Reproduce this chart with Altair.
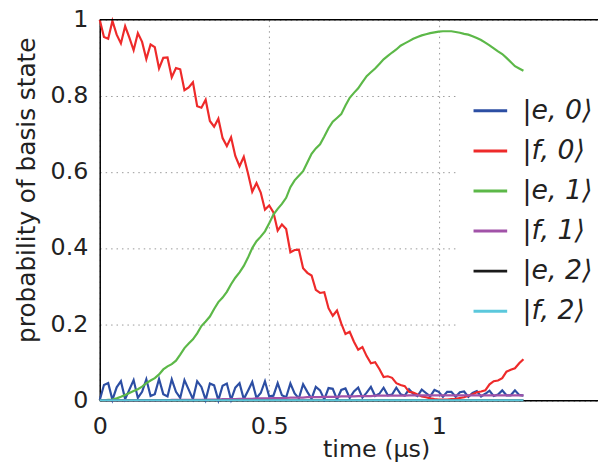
import altair as alt
import pandas as pd

time_us = [0.0, 0.0125, 0.025, 0.0375, 0.05, 0.0625, 0.075, 0.0875, 0.1, 0.1125,
           0.125, 0.1375, 0.15, 0.1625, 0.175, 0.1875, 0.2, 0.2125, 0.225, 0.2375,
           0.25, 0.2625, 0.275, 0.2875, 0.3, 0.3125, 0.325, 0.3375, 0.35, 0.3625,
           0.375, 0.3875, 0.4, 0.4125, 0.425, 0.4375, 0.45, 0.4625, 0.475, 0.4875,
           0.5, 0.5125, 0.525, 0.5375, 0.55, 0.5625, 0.575, 0.5875, 0.6, 0.6125,
           0.625, 0.6375, 0.65, 0.6625, 0.675, 0.6875, 0.7, 0.7125, 0.725, 0.7375,
           0.75, 0.7625, 0.775, 0.7875, 0.8, 0.8125, 0.825, 0.8375, 0.85, 0.8625,
           0.875, 0.8875, 0.9, 0.9125, 0.925, 0.9375, 0.95, 0.9625, 0.975, 0.9875,
           1.0, 1.0125, 1.025, 1.0375, 1.05, 1.0625, 1.075, 1.0875, 1.1, 1.1125,
           1.125, 1.1375, 1.15, 1.1625, 1.175, 1.1875, 1.2, 1.2125, 1.225, 1.2375,
           1.25]

p_e0 = [0.000, 0.040, 0.045, 0.001, 0.034, 0.050, 0.003, 0.028, 0.053, 0.006,
        0.022, 0.055, 0.011, 0.016, 0.056, 0.016, 0.010, 0.055, 0.022, 0.006,
        0.053, 0.028, 0.003, 0.050, 0.035, 0.001, 0.044, 0.039, 0.000, 0.038,
        0.044, 0.001, 0.033, 0.045, 0.003, 0.025, 0.048, 0.006, 0.019, 0.050,
        0.010, 0.012, 0.045, 0.013, 0.008, 0.044, 0.018, 0.005, 0.042, 0.022,
        0.004, 0.035, 0.026, 0.002, 0.032, 0.030, 0.002, 0.027, 0.031, 0.006,
        0.023, 0.033, 0.007, 0.020, 0.035, 0.011, 0.017, 0.033, 0.013, 0.015,
        0.033, 0.016, 0.012, 0.029, 0.017, 0.011, 0.028, 0.019, 0.010, 0.027,
        0.022, 0.009, 0.022, 0.022, 0.009, 0.021, 0.023, 0.009, 0.019, 0.024,
        0.010, 0.017, 0.025, 0.011, 0.015, 0.026, 0.013, 0.013, 0.026, 0.014,
        0.012]

p_f0 = [1.000, 0.955, 0.950, 0.997, 0.961, 0.938, 0.983, 0.953, 0.920, 0.965,
        0.942, 0.897, 0.935, 0.928, 0.872, 0.900, 0.901, 0.849, 0.873, 0.870,
        0.815, 0.822, 0.836, 0.773, 0.769, 0.790, 0.734, 0.719, 0.740, 0.689,
        0.668, 0.691, 0.642, 0.615, 0.640, 0.596, 0.548, 0.571, 0.546, 0.501,
        0.512, 0.494, 0.446, 0.462, 0.450, 0.389, 0.395, 0.396, 0.347, 0.335,
        0.328, 0.290, 0.282, 0.284, 0.242, 0.222, 0.236, 0.202, 0.174, 0.180,
        0.154, 0.133, 0.140, 0.116, 0.097, 0.100, 0.082, 0.061, 0.063, 0.059,
        0.045, 0.040, 0.037, 0.022, 0.020, 0.015, 0.010, 0.008, 0.005, 0.003,
        0.002, 0.002, 0.002, 0.003, 0.004, 0.006, 0.008, 0.012, 0.016, 0.021,
        0.023, 0.026, 0.042, 0.050, 0.052, 0.058, 0.075, 0.080, 0.084, 0.097,
        0.108]

p_e1 = [0.000, 0.000, 0.001, 0.002, 0.005, 0.009, 0.014, 0.019, 0.024, 0.029,
        0.036, 0.045, 0.052, 0.058, 0.068, 0.081, 0.089, 0.095, 0.104, 0.120,
        0.137, 0.149, 0.160, 0.176, 0.195, 0.207, 0.220, 0.240, 0.258, 0.270,
        0.285, 0.305, 0.322, 0.336, 0.353, 0.375, 0.400, 0.418, 0.430, 0.444,
        0.465, 0.488, 0.503, 0.516, 0.532, 0.560, 0.578, 0.590, 0.602, 0.625,
        0.648, 0.662, 0.673, 0.693, 0.715, 0.732, 0.742, 0.752, 0.775, 0.795,
        0.808, 0.820, 0.836, 0.852, 0.862, 0.872, 0.884, 0.896, 0.905, 0.914,
        0.922, 0.932, 0.938, 0.944, 0.950, 0.955, 0.959, 0.962, 0.965, 0.967,
        0.969, 0.970, 0.970, 0.970, 0.968, 0.966, 0.963, 0.961, 0.957, 0.952,
        0.947, 0.940, 0.933, 0.925, 0.917, 0.910, 0.900, 0.889, 0.878, 0.872,
        0.866]

p_f1 = [0.000, 0.000, 0.000, 0.000, 0.000, 0.000, 0.000, 0.000, 0.000, 0.000,
        0.000, 0.000, 0.000, 0.000, 0.000, 0.000, 0.000, 0.001, 0.001, 0.001,
        0.001, 0.001, 0.001, 0.001, 0.001, 0.002, 0.002, 0.002, 0.002, 0.003,
        0.003, 0.003, 0.003, 0.004, 0.004, 0.004, 0.004, 0.005, 0.005, 0.005,
        0.005, 0.006, 0.006, 0.006, 0.006, 0.007, 0.007, 0.007, 0.007, 0.008,
        0.008, 0.008, 0.008, 0.009, 0.009, 0.009, 0.009, 0.010, 0.010, 0.010,
        0.010, 0.011, 0.011, 0.011, 0.011, 0.012, 0.012, 0.012, 0.012, 0.012,
        0.012, 0.012, 0.012, 0.013, 0.013, 0.013, 0.013, 0.013, 0.013, 0.013,
        0.013, 0.013, 0.013, 0.013, 0.013, 0.013, 0.013, 0.013, 0.013, 0.013,
        0.013, 0.013, 0.013, 0.013, 0.013, 0.013, 0.013, 0.013, 0.013, 0.013,
        0.013]

p_e2 = [0.0] * len(time_us)
p_f2 = [0.0] * len(time_us)

state_labels = ["|e, 0⟩", "|f, 0⟩", "|e, 1⟩", "|f, 1⟩", "|e, 2⟩", "|f, 2⟩"]
state_colors = ["#2c4ea3", "#ee2a2a", "#5cb848", "#a152a8", "#1a1a1a", "#5bc8dc"]
series = [p_e0, p_f0, p_e1, p_f1, p_e2, p_f2]

rows = []
for lab, vals in zip(state_labels, series):
    for t, v in zip(time_us, vals):
        rows.append({"t": t, "p": v, "state": lab})
df = pd.DataFrame(rows)

W = 503.6
H = 384.5

lines = alt.Chart(df).mark_line(strokeWidth=2.2).encode(
    x=alt.X("t:Q",
            scale=alt.Scale(domain=[0, 1.47], nice=False, zero=False),
            axis=alt.Axis(values=[0, 0.5, 1], format="~g", title="time (μs)",
                          titleX=279.3, titleY=57, titleAlign="center",
                          titleBaseline="alphabetic", labelPadding=14.5,
                          labelFlush=False)),
    y=alt.Y("p:Q",
            scale=alt.Scale(domain=[0, 1], nice=False),
            axis=alt.Axis(values=[0, 0.2, 0.4, 0.6, 0.8, 1], format="~g",
                          title="probability of basis state",
                          titleX=-66.3, titleY=171.7, titleAngle=-90,
                          titleAlign="center", titleBaseline="alphabetic",
                          titleFontSize=25, labelPadding=12, labelFlush=False)),
    color=alt.Color("state:N",
                    scale=alt.Scale(domain=state_labels, range=state_colors),
                    legend=alt.Legend(orient="none", legendX=362.3, legendY=59.5,
                                      title=None, symbolType="stroke",
                                      symbolSize=1156, symbolStrokeWidth=3,
                                      labelFont="DejaVu Sans", labelFontSize=27,
                                      labelFontStyle="italic", labelColor="#222",
                                      fillColor="white", padding=14,
                                      rowPadding=8.5, labelOffset=14,
                                      labelLimit=300)),
    order=alt.Order("t:Q"),
)

top_border = alt.Chart(pd.DataFrame({"a": [0]})).mark_rule(
    color="black", strokeWidth=1.5).encode(
    y=alt.value(0), x=alt.value(0), x2=alt.value(W))

chart = alt.layer(lines, top_border).properties(
    width=W, height=H,
    autosize=alt.AutoSizeParams(type="none"),
    padding={"left": 92.7, "top": 9.5, "right": 0, "bottom": 62},
).configure_view(stroke=None).configure_axis(
    domainColor="black", domainWidth=1.5,
    labelFont="DejaVu Sans", labelFontSize=24, labelColor="#222",
    titleFont="DejaVu Sans", titleFontSize=24, titleFontWeight="normal",
    titleColor="#222",
    gridColor="#999999", gridDash=[1.5, 4], gridWidth=1,
    ticks=False, tickSize=0,
)

chart.save("out.html", embed_options={"renderer": "svg", "actions": False})
